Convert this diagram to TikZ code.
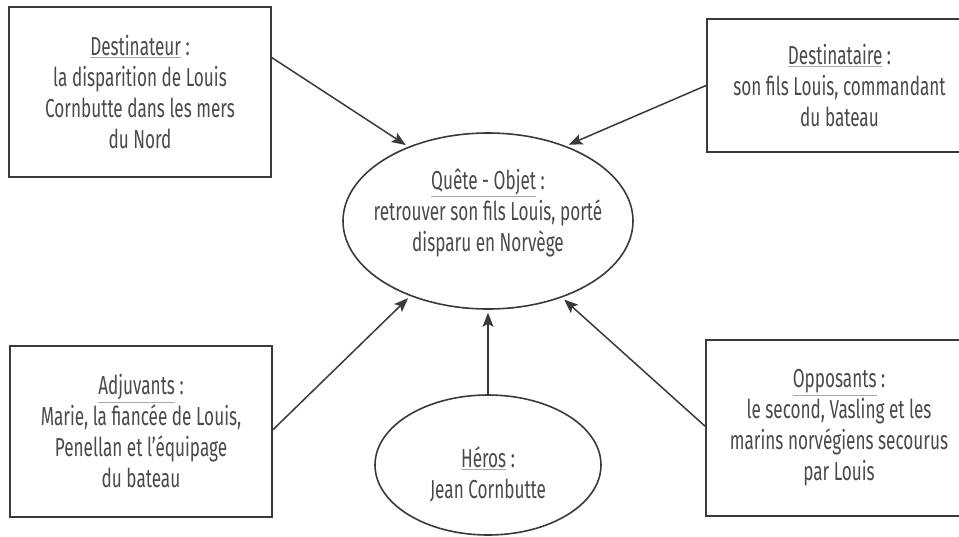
\documentclass[tikz,border=0pt]{standalone}
\usepackage{fontspec}
\setmainfont[FakeStretch=0.66]{Fira Sans}
\usetikzlibrary{arrows.meta,shapes.geometric,calc}
\definecolor{txt}{HTML}{4A4A4A}
\definecolor{ln}{HTML}{3A3A3A}
\definecolor{ulc}{HTML}{A8A8A8}
\newcommand\ulword[1]{\textcolor{ulc}{\underline{\textcolor{txt}{#1}}}}
\tikzset{
  box/.style={draw=ln, line width=1.8pt, rectangle, align=center, text=txt,
    font=\fontsize{26}{31}\selectfont, inner sep=0pt},
  oval/.style={draw=ln, line width=1.6pt, ellipse, inner sep=0pt},
  lbl/.style={align=center, text=txt, font=\fontsize{26}{31}\selectfont, inner sep=0pt},
  arr/.style={draw=ln, line width=1.5pt, -{Stealth[length=14pt,width=11pt,inset=3pt]}, shorten >=3pt}
}
\begin{document}
\begin{tikzpicture}[x=1pt,y=-1pt]
\useasboundingbox (0,0) rectangle (959,536);
\clip (0,0) rectangle (959,536);
\fill[white] (0,0) rectangle (959,536);
\node[box, minimum width=262pt, minimum height=170pt] (dest) at (140,92)
  {\ulword{Destinateur} :\\la disparition de Louis\\Cornbutte dans les mers\\du Nord};
\node[box, minimum width=265pt, minimum height=133pt] (destin) at (839.5,85.5)
  {\ulword{Destinataire} :\\son fils Louis, commandant\\du bateau};
\node[box, minimum width=262pt, minimum height=171pt] (adj) at (141,431.5)
  {\ulword{Adjuvants} :\\Marie, la fiancée de Louis,\\Penellan et l’équipage\\du bateau};
\node[box, minimum width=266pt, minimum height=176pt] (opp) at (839,428)
  {\ulword{Opposants} :\\le second, Vasling et les\\marins norvégiens secourus\\par Louis};
\node[oval, minimum width=290pt, minimum height=176pt] (quete) at (488,221) {};
\node[lbl] (qtxt) at (488,213) {\ulword{Quête - Objet} :\\retrouver son fils Louis, porté\\disparu en Norvège};
\node[oval, minimum width=226pt, minimum height=140pt] (heros) at (488,465) {};
\node[lbl] (htxt) at (488,474) {\ulword{Héros} :\\Jean Cornbutte};
\draw[arr] ($(dest.north east)!0.3!(dest.south east)$) -- (quete.137.6);
\draw[arr] ($(destin.north west)!0.5!(destin.south west)$) -- (quete.44.6);
\draw[arr] ($(adj.north east)!0.49!(adj.south east)$) -- (quete.224.3);
\draw[arr] ($(opp.north west)!0.49!(opp.south west)$) -- (quete.314.3);
\draw[arr] (heros.north) -- (quete.south);
\end{tikzpicture}
\end{document}
